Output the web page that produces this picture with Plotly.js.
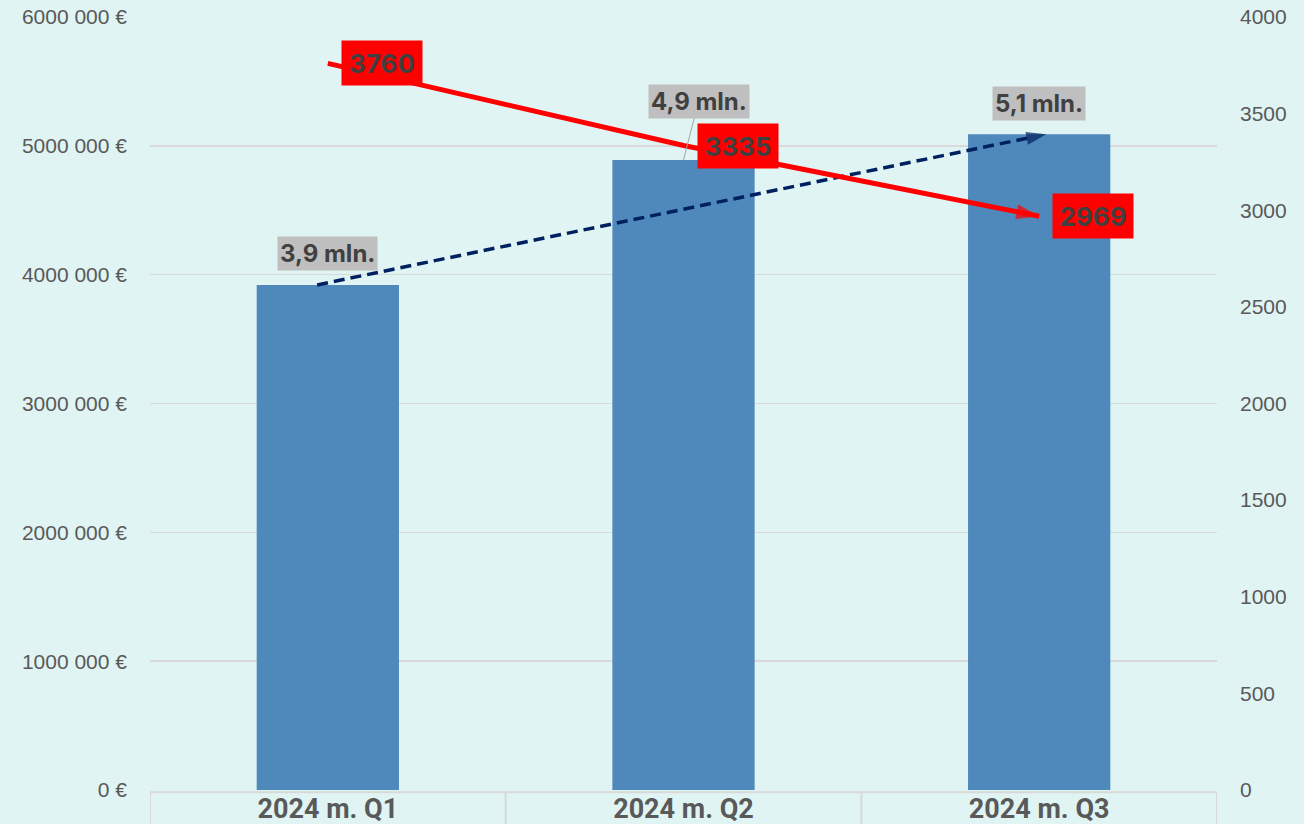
<!DOCTYPE html>
<html>
<head>
<meta charset="utf-8">
<script src="https://cdn.plot.ly/plotly-3.0.1.min.js"></script>
<style>
html,body{margin:0;padding:0;background:#E0F4F3;}
#chart{width:1304px;height:824px;}
</style>
</head>
<body>
<div id="chart"></div>
<script>
// ---- data ----
var categories = ["2024 m. Q1", "2024 m. Q2", "2024 m. Q3"];
var revenue = [3920000, 4890000, 5090000];          // bars, left axis (€)
var revenueLabels = ["3,9 mln.", "4,9 mln.", "5,1 mln."];
var counts = [3760, 3335, 2969];                    // red line, right axis
var leftTickVals = [0, 1000000, 2000000, 3000000, 4000000, 5000000, 6000000];
var leftTickText = ["0 €", "1000 000 €", "2000 000 €", "3000 000 €", "4000 000 €", "5000 000 €", "6000 000 €"];
var rightTickVals = [0, 500, 1000, 1500, 2000, 2500, 3000, 3500, 4000];

var idx = categories.map(function(_, i){ return i; });
var bg = "#E0F4F3";
var txt = "#595959";

var bars = {
  type: "bar", x: idx, y: revenue, width: 0.4,
  marker: {color: "#4F88BB"}, hoverinfo: "skip", showlegend: false
};

// dashed trend arrow from first to last bar value
var trend = {
  type: "scatter", mode: "lines+markers",
  x: [idx[0] - 0.03, idx[idx.length - 1] + 0.02],
  y: [revenue[0], revenue[revenue.length - 1]],
  line: {color: "#002060", width: 3.5, dash: "11px,6px"},
  marker: {symbol: ["circle", "arrow"], size: [0, 21], color: "#002060", angleref: "previous",
           line: {width: 0}},
  hoverinfo: "skip", showlegend: false, cliponaxis: false
};

var redLine = {
  type: "scatter", mode: "lines+markers", x: idx, y: counts, yaxis: "y2",
  line: {color: "#FF0000", width: 5},
  marker: {symbol: counts.map(function(_, i){ return i === counts.length - 1 ? "arrow" : "circle"; }),
           size: counts.map(function(_, i){ return i === counts.length - 1 ? 24 : 0; }),
           color: "#FF0000", angleref: "previous", line: {width: 0}},
  hoverinfo: "skip", showlegend: false, cliponaxis: false
};

var annotations = [];
// bar labels
revenue.forEach(function(v, i){
  var a = {
    x: idx[i], y: v, xref: "x", yref: "y", text: revenueLabels[i],
    font: {family: "Inter, Roboto, sans-serif", size: 24, color: "#404040", weight: "bold"},
    bgcolor: "#BFBFBF", borderpad: 2, showarrow: false, yshift: 31
  };
  if (i === 1) {
    a.showarrow = true; a.arrowhead = 0; a.arrowwidth = 1; a.arrowcolor = "#A6A6A6";
    a.ax = 15; a.ay = -59; a.yshift = 0;
  }
  annotations.push(a);
});
// red line labels
counts.forEach(function(v, i){
  annotations.push({
    x: idx[i], y: v, xref: "x", yref: "y2", text: String(v),
    font: {family: "Inter, Roboto, sans-serif", size: 26, color: "#404040", weight: "bold"},
    bgcolor: "#FF0000", width: 80, height: 44, borderpad: 0,
    showarrow: false, xshift: 54, yshift: 0
  });
});

// category "table" lines below plot
var shapes = [];
var bounds = [-0.5, 0.5, 1.5, 2.5];
shapes.push({type: "line", xref: "x", yref: "paper", x0: -0.5, x1: 2.5, y0: -0.003, y1: -0.003,
             line: {color: "#D9D9D9", width: 2}});
bounds.forEach(function(b){
  shapes.push({type: "line", xref: "x", yref: "paper", x0: b, x1: b, y0: -0.003, y1: -0.1,
               line: {color: "#D9D9D9", width: 2}});
});

var layout = {
  width: 1304, height: 824,
  margin: {l: 150, r: 87, t: 17, b: 34},
  paper_bgcolor: bg, plot_bgcolor: bg,
  font: {family: "Liberation Sans, Arial, sans-serif", color: txt},
  bargap: 0.6,
  xaxis: {
    range: [-0.5, 2.5], tickvals: idx, ticktext: categories,
    tickfont: {family: "Roboto, sans-serif", size: 27, color: txt, weight: "bold"},
    showgrid: false, zeroline: false, showline: false, ticks: "", ticklabelstandoff: 0,
    fixedrange: true
  },
  yaxis: {
    range: [0, 6000000], tickvals: leftTickVals, ticktext: leftTickText,
    tickfont: {size: 21, color: txt},
    showgrid: true, gridcolor: "#D9D9D9", gridwidth: 1.5, zeroline: false, showline: false,
    ticks: "", ticklabelstandoff: 22
  },
  yaxis2: {
    range: [0, 4000], tickvals: rightTickVals, overlaying: "y", side: "right",
    tickfont: {size: 21, color: txt},
    showgrid: false, zeroline: false, showline: false, ticks: "", ticklabelstandoff: 22
  },
  annotations: annotations,
  shapes: shapes,
  showlegend: false
};

Plotly.newPlot("chart", [bars, trend, redLine], layout, {displayModeBar: false, staticPlot: true});
</script>
</body>
</html>
